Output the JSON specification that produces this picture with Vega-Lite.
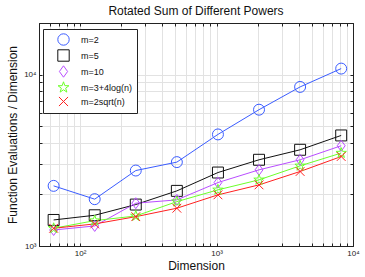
{
  "$schema": "https://vega.github.io/schema/vega-lite/v6.json",
  "width": 314,
  "height": 223,
  "autosize": {"type": "none"},
  "padding": {"left": 39, "top": 23, "right": 12, "bottom": 31},
  "background": "white",
  "config": {
    "font": "Liberation Sans",
    "view": {"stroke": "#222", "strokeWidth": 1},
    "axis": {"labelFont": "Liberation Sans", "titleFont": "Liberation Sans", "titleFontWeight": "normal", "labelColor": "#222", "titleColor": "#111"},
    "legend": {"title": null, "orient": "none", "legendX": 4, "legendY": 6, "strokeColor": "#222", "fillColor": "white", "padding": 4, "labelFontSize": 9, "labelFont": "Liberation Sans", "labelColor": "#111", "symbolStrokeWidth": 1, "symbolSize": 130, "rowPadding": -1, "labelOffset": 11, "symbolOffset": 10, "cornerRadius": 0}
  },
  "title": {"text": "Rotated Sum of Different Powers", "fontSize": 12, "fontWeight": "normal", "font": "Liberation Sans", "offset": 1, "color": "#111"},
  "data": {"values": [
    {"n": 64, "series": "m=2", "v": 2243},
    {"n": 128, "series": "m=2", "v": 1876},
    {"n": 256, "series": "m=2", "v": 2756},
    {"n": 512, "series": "m=2", "v": 3086},
    {"n": 1024, "series": "m=2", "v": 4477},
    {"n": 2048, "series": "m=2", "v": 6240},
    {"n": 4096, "series": "m=2", "v": 8475},
    {"n": 8192, "series": "m=2", "v": 10840},
    {"n": 64, "series": "m=5", "v": 1419},
    {"n": 128, "series": "m=5", "v": 1511},
    {"n": 256, "series": "m=5", "v": 1745},
    {"n": 512, "series": "m=5", "v": 2097},
    {"n": 1024, "series": "m=5", "v": 2683},
    {"n": 2048, "series": "m=5", "v": 3184},
    {"n": 4096, "series": "m=5", "v": 3642},
    {"n": 8192, "series": "m=5", "v": 4416},
    {"n": 64, "series": "m=10", "v": 1240},
    {"n": 128, "series": "m=10", "v": 1309},
    {"n": 256, "series": "m=10", "v": 1777},
    {"n": 512, "series": "m=10", "v": 1858},
    {"n": 1024, "series": "m=10", "v": 2345},
    {"n": 2048, "series": "m=10", "v": 2782},
    {"n": 4096, "series": "m=10", "v": 3184},
    {"n": 8192, "series": "m=10", "v": 3845},
    {"n": 64, "series": "m=3+4log(n)", "v": 1269},
    {"n": 128, "series": "m=3+4log(n)", "v": 1406},
    {"n": 256, "series": "m=3+4log(n)", "v": 1497},
    {"n": 512, "series": "m=3+4log(n)", "v": 1815},
    {"n": 1024, "series": "m=3+4log(n)", "v": 2126},
    {"n": 2048, "series": "m=3+4log(n)", "v": 2432},
    {"n": 4096, "series": "m=3+4log(n)", "v": 2936},
    {"n": 8192, "series": "m=3+4log(n)", "v": 3484},
    {"n": 64, "series": "m=2sqrt(n)", "v": 1269},
    {"n": 128, "series": "m=2sqrt(n)", "v": 1345},
    {"n": 256, "series": "m=2sqrt(n)", "v": 1483},
    {"n": 512, "series": "m=2sqrt(n)", "v": 1661},
    {"n": 1024, "series": "m=2sqrt(n)", "v": 1988},
    {"n": 2048, "series": "m=2sqrt(n)", "v": 2273},
    {"n": 4096, "series": "m=2sqrt(n)", "v": 2721},
    {"n": 8192, "series": "m=2sqrt(n)", "v": 3327}
  ]},
  "resolve": {"axis": {"x": "independent", "y": "independent"}},
  "layer": [
    {
      "mark": {"type": "line", "strokeWidth": 1, "clip": true},
      "encoding": {
        "x": {"field": "n", "type": "quantitative",
          "scale": {"type": "log", "domain": [50, 10000], "nice": false},
          "axis": {"title": "Dimension", "titleFontSize": 12, "titlePadding": 3, "labelFontSize": 8, "values": [50,60,70,80,90,100,200,300,400,500,600,700,800,900,1000,2000,3000,4000,5000,6000,7000,8000,9000,10000],
            "labelExpr": "datum.value == 100 ? '10²' : datum.value == 1000 ? '10³' : datum.value == 10000 ? '10⁴' : ''",
            "grid": true, "gridColor": "#e2e2e2", "gridWidth": 1, "tickSize": -3, "tickColor": "#222", "domainColor": "#222", "labelPadding": 6, "labelFlush": false, "labelOverlap": false}},
        "y": {"field": "v", "type": "quantitative",
          "scale": {"type": "log", "domain": [1000, 20000], "nice": false},
          "axis": {"title": "Function Evaluations / Dimension", "titleFontSize": 12, "titlePadding": 4, "labelFontSize": 8, "values": [1000,2000,3000,4000,5000,6000,7000,8000,9000,10000,20000],
            "labelExpr": "datum.value == 1000 ? '10³' : datum.value == 10000 ? '10⁴' : ''",
            "grid": true, "gridColor": "#e2e2e2", "gridWidth": 1, "tickSize": -3, "tickColor": "#222", "domainColor": "#222", "labelPadding": 6, "labelFlush": false, "labelOverlap": false}},
        "color": {"field": "series", "type": "nominal",
          "scale": {"domain": ["m=2", "m=5", "m=10", "m=3+4log(n)", "m=2sqrt(n)"], "range": ["#3a5cff", "#111111", "#b94dff", "#6cff2a", "#ff2020"]}},
        "detail": {"field": "series"}
      }
    },
    {
      "mark": {"type": "point", "filled": false, "strokeWidth": 1, "size": 120, "opacity": 1, "clip": true},
      "encoding": {
        "x": {"field": "n", "type": "quantitative", "scale": {"type": "log", "domain": [50, 10000], "nice": false},
          "axis": {"orient": "top", "title": null, "labels": false, "grid": false, "values": [50,60,70,80,90,100,200,300,400,500,600,700,800,900,1000,2000,3000,4000,5000,6000,7000,8000,9000,10000], "tickSize": -3, "tickColor": "#222", "domainColor": "#222"}},
        "y": {"field": "v", "type": "quantitative", "scale": {"type": "log", "domain": [1000, 20000], "nice": false},
          "axis": {"orient": "right", "title": null, "labels": false, "grid": false, "values": [1000,2000,3000,4000,5000,6000,7000,8000,9000,10000,20000], "tickSize": -3, "tickColor": "#222", "domainColor": "#222"}},
        "color": {"field": "series", "type": "nominal",
          "scale": {"domain": ["m=2", "m=5", "m=10", "m=3+4log(n)", "m=2sqrt(n)"], "range": ["#3a5cff", "#111111", "#b94dff", "#6cff2a", "#ff2020"]}},
        "shape": {"field": "series", "type": "nominal",
          "scale": {"domain": ["m=2", "m=5", "m=10", "m=3+4log(n)", "m=2sqrt(n)"], "range": ["circle", "square", "M0,-1L0.72,0L0,1L-0.72,0Z", "M0,-1L0.235,-0.324L0.951,-0.309L0.380,0.124L0.588,0.809L0,0.4L-0.588,0.809L-0.380,0.124L-0.951,-0.309L-0.235,-0.324Z", "M-0.8,-0.8L0.8,0.8M-0.8,0.8L0.8,-0.8"]}}
      }
    }
  ]
}
